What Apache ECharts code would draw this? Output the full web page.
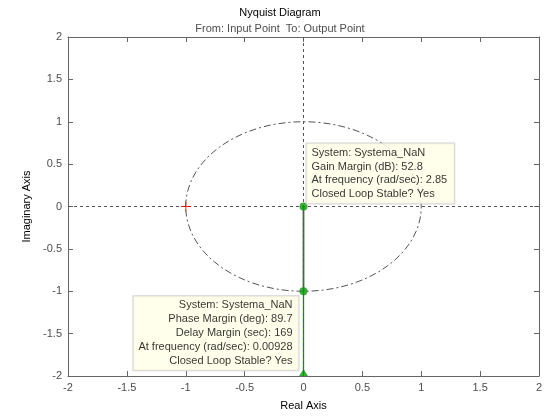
<!DOCTYPE html>
<html><head><meta charset="utf-8">
<script src="https://cdn.jsdelivr.net/npm/echarts@6/dist/echarts.min.js"></script>
<style>html,body{margin:0;padding:0;background:#fff}#c{width:560px;height:420px}</style>
</head><body><div id="c"></div>
<script>
// ---- data ----
const axisMin = -2, axisMax = 2, axisStep = 0.5;
const nyquistRe = [0, 0];
const nyquistIm = [0, -1];
const marginLineRe = [0, 0, 0];
const marginLineIm = [0, -1, -2];
const gainMarginPoint = [0, 0];
const phaseMarginPoint = [0, -1];
const delayMarkerPoint = [0, -2];
const criticalPoint = [-1, 0];
const unitCircle = [0, 0, 1]; // center re, center im, radius
const zeroLines = [0];
const gmText = ['System: Systema_NaN', 'Gain Margin (dB): 52.8', 'At frequency (rad/sec): 2.85', 'Closed Loop Stable? Yes'];
const pmText = ['System: Systema_NaN', 'Phase Margin (deg): 89.7', 'Delay Margin (sec): 169', 'At frequency (rad/sec): 0.00928', 'Closed Loop Stable? Yes'];

const FONT = '"Liberation Sans", Arial, sans-serif';
const GREEN = '#0a960a';
const AX = '#666';

const chart = echarts.init(document.getElementById('c'), null, {renderer: 'canvas'});
const baseAxis = {
  min: axisMin, max: axisMax, interval: axisStep,
  axisLine: {show: true, onZero: false, lineStyle: {color: AX, width: 1}},
  axisTick: {show: true, inside: true, length: 5, lineStyle: {color: AX}},
  splitLine: {show: false},
  axisLabel: {color: '#4d4d4d', fontSize: 11, fontFamily: FONT}
};
const option = {
  animation: false,
  backgroundColor: '#fff',
  title: [
    {text: 'Nyquist Diagram', left: 'center', top: 2,
     textStyle: {fontSize: 11, fontWeight: 'normal', color: '#000', fontFamily: FONT}},
    {text: 'From: Input Point  To: Output Point', left: 'center', top: 18,
     textStyle: {fontSize: 11, fontWeight: 'normal', color: '#4d4d4d', fontFamily: FONT}}
  ],
  grid: {left: 68, right: 21, top: 37, bottom: 44},
  xAxis: [
    Object.assign({}, baseAxis, {type: 'value', position: 'bottom', name: 'Real Axis', nameLocation: 'middle', nameGap: 24,
      nameTextStyle: {color: '#000', fontSize: 11, fontFamily: FONT},
      axisLabel: Object.assign({}, baseAxis.axisLabel, {margin: 6})}),
    Object.assign({}, baseAxis, {type: 'value', position: 'top', axisLabel: {show: false}})
  ],
  yAxis: [
    Object.assign({}, baseAxis, {type: 'value', position: 'left', name: 'Imaginary Axis', nameLocation: 'middle', nameGap: 22,
      nameTextStyle: {color: '#000', fontSize: 11, fontFamily: FONT},
      axisLabel: Object.assign({}, baseAxis.axisLabel, {margin: 6})}),
    Object.assign({}, baseAxis, {type: 'value', position: 'right', axisLabel: {show: false}})
  ],
  series: [
    {
      type: 'custom', silent: true, z: 2,
      data: [unitCircle],
      renderItem: function (params, api) {
        const c = api.coord([api.value(0), api.value(1)]);
        const s = api.size([api.value(2), api.value(2)]);
        return {type: 'ellipse', shape: {cx: c[0], cy: c[1], rx: s[0], ry: s[1]},
          style: {fill: 'none', stroke: '#555', lineWidth: 1, lineDash: [7, 3, 2, 3]}};
      }
    },
    {
      type: 'line', silent: true, z: 3, symbol: 'none',
      data: marginLineRe.map((v, i) => [v, marginLineIm[i]]),
      lineStyle: {color: GREEN, width: 1.3}
    },
    {
      type: 'line', data: [], silent: true, z: 4,
      markLine: {
        silent: true, symbol: 'none', animation: false,
        label: {show: false},
        lineStyle: {color: '#555', width: 1, type: [3, 3]},
        data: [{xAxis: zeroLines[0]}, {yAxis: zeroLines[0]}]
      }
    },
    {
      type: 'line', silent: true, z: 4, symbol: 'none',
      data: nyquistRe.map((v, i) => [v, nyquistIm[i]]),
      lineStyle: {color: '#4a6a4a', width: 1.6}
    },
    {
      type: 'scatter', silent: true, z: 5,
      symbol: 'path://M0,5L10,5M5,0L5,10', symbolSize: 10,
      itemStyle: {color: 'rgba(0,0,0,0)', borderColor: '#ff0000', borderWidth: 1},
      data: [criticalPoint]
    },
    {
      type: 'scatter', silent: true, z: 6,
      symbol: 'triangle', symbolSize: [9, 7], symbolOffset: [0, '-50%'],
      itemStyle: {color: GREEN},
      data: [delayMarkerPoint]
    },
    {
      type: 'scatter', silent: true, z: 10, symbol: 'circle', symbolSize: 8,
      itemStyle: {color: GREEN},
      data: [
        {value: gainMarginPoint, label: {show: true, formatter: gmText.join('\n'),
          position: [7, 1], align: 'left', verticalAlign: 'bottom',
          lineHeight: 13.5, padding: [3, 7, 3, 5]}},
        {value: phaseMarginPoint, label: {show: true, formatter: pmText.join('\n'),
          position: [-1, 9], align: 'right', verticalAlign: 'top',
          lineHeight: 14, padding: [2, 6, 2, 5]}}
      ],
      label: {
        color: '#000', fontSize: 11, fontFamily: FONT,
        backgroundColor: '#ffffe6', borderColor: '#c8c8c8', borderWidth: 1
      }
    }
  ]
};
chart.setOption(option);
</script>
</body></html>
